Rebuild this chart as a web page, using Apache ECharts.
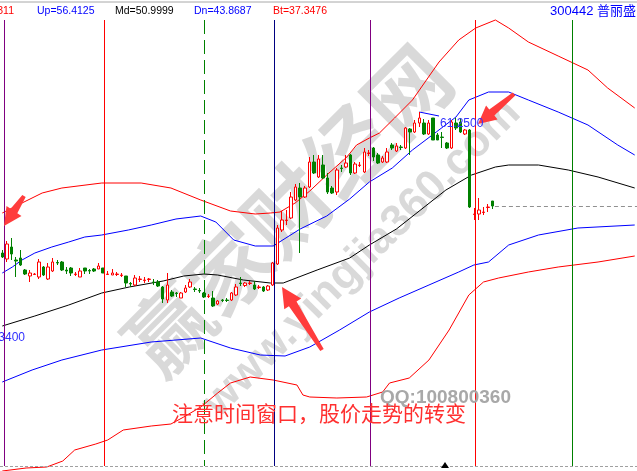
<!DOCTYPE html>
<html><head><meta charset="utf-8">
<script src="https://cdn.jsdelivr.net/npm/echarts@6/dist/echarts.min.js"></script>
<style>html,body{margin:0;padding:0;background:#fff;overflow:hidden}#c{width:637px;height:471px}</style>
</head><body><div id="c"></div><script>
// ---- data ----
const categoryCount = 139;
const categories = Array.from({length: categoryCount}, (_, i) => 'T' + (i + 1));
// candles: [open, close, low, high]
const candles = [
[47.15,46.75,46.65,47.45],[46.55,48.05,46.25,48.35],[47.75,47.05,46.45,48.65],[46.45,46.35,44.75,46.75],
[46.65,45.95,45.85,47.45],[45.45,45.05,44.95,45.55],[44.85,45.15,44.25,45.45],[45.0,45.05,44.95,45.15],
[44.75,46.25,44.55,46.55],[45.75,44.95,44.85,45.85],[44.55,45.75,44.45,46.15],[45.35,46.25,45.25,46.65],
[46.2,46.15,45.95,46.45],[46.25,45.45,45.35,46.35],[45.45,45.35,45.05,45.75],[45.65,45.15,44.85,45.75],
[45.0,45.05,44.85,45.25],[44.75,45.35,44.75,45.65],[45.65,45.35,45.05,45.65],[45.4,45.35,45.05,45.55],
[45.55,45.35,45.25,45.65],[45.55,45.85,45.55,46.15],[45.65,45.15,45.15,45.65],[45.0,45.05,44.95,45.35],
[44.95,45.15,44.95,45.55],[45.0,45.05,44.85,45.25],[44.9,44.95,44.75,45.15],[44.85,44.15,43.75,44.85],
[44.1,44.05,43.75,44.25],[43.95,44.65,43.85,44.95],[44.5,44.55,44.25,44.85],[44.4,44.45,44.15,44.75],
[44.5,44.55,44.25,44.65],[44.25,44.2,43.95,44.55],[44.25,43.85,43.75,44.45],[43.75,42.55,42.15,43.85],
[42.45,43.95,42.15,45.15],[43.25,42.85,42.75,43.45],[43.15,43.1,42.75,43.25],[42.65,43.15,42.65,43.25],
[43.25,43.65,43.15,43.95],[43.75,44.25,43.65,44.55],[43.55,43.5,43.25,43.75],[43.4,43.35,43.15,43.65],
[43.15,42.75,42.65,43.25],[42.8,42.85,42.65,43.05],[42.65,41.85,41.75,43.35],[42.05,42.35,41.95,42.45],
[42.45,42.4,42.25,42.55],[42.45,42.4,42.25,42.65],[42.45,43.15,42.35,43.25],[42.95,43.75,42.85,44.05],
[44.15,44.1,43.85,44.75],[43.9,44.15,43.75,44.25],[44.1,44.15,43.95,44.35],[43.95,43.55,43.45,44.35],
[43.7,43.75,43.55,43.95],[43.75,43.35,43.25,43.85],[43.45,43.85,43.35,43.95],[43.95,46.15,43.85,46.25],
[46.05,49.65,45.95,49.95],[49.45,50.45,49.25,51.35],[50.4,50.45,49.95,51.45],[50.65,52.75,50.55,53.25],
[52.45,53.75,52.35,54.05],[53.65,52.75,47.15,54.15],[52.75,53.65,52.65,53.85],[53.75,56.25,53.65,56.75],
[56.25,55.15,55.05,56.95],[54.75,56.55,54.65,56.95],[55.95,54.65,54.55,56.95],[54.65,53.25,53.05,55.15],
[53.65,53.15,53.05,53.85],[53.25,55.45,52.95,55.65],[55.65,55.6,55.25,55.95],[55.75,56.15,55.65,56.95],
[56.95,55.15,54.95,57.05],[55.15,56.05,55.05,56.25],[55.9,55.95,55.75,56.25],[55.25,57.25,55.15,57.65],
[57.1,57.15,56.85,57.45],[57.65,56.75,56.35,57.75],[56.95,56.15,56.05,57.15],[56.25,56.65,56.15,56.85],
[56.25,57.25,56.15,57.65],[57.95,57.65,57.45,58.15],[57.35,57.85,57.25,58.15],[57.75,57.7,57.45,57.95],
[57.65,59.65,57.55,59.75],[59.55,59.25,56.95,59.65],[59.25,60.15,59.15,60.45],[60.15,60.65,59.75,61.25],
[60.15,59.05,58.95,60.55],[59.05,60.15,58.95,60.45],[60.65,58.45,58.45,60.65],[58.95,58.45,58.45,59.15],
[58.75,58.7,57.65,59.25],[58.15,57.65,57.55,58.25],[57.65,60.25,57.55,60.45],[60.15,59.65,59.45,60.65],
[60.25,59.25,59.15,60.65],[59.05,59.45,58.95,59.55],[59.45,51.75,51.65,59.55],[51.0,51.05,50.45,51.65],
[51.05,51.45,50.45,52.65],[51.2,51.25,50.95,51.75],[51.7,51.75,51.25,52.05],[52.35,51.85,51.55,52.35]
];
// band lines: [bar index, price]
const redUpper = [[0,51.15],[4.3,52.15],[8.7,53.15],[13,53.65],[21.7,54.15],[30.3,54.15],[36.8,53.65],[43.3,52.45],[49.8,51.35],[55.2,51.05],[58.5,51.15],[60.6,51.25],[63.9,52.15],[67.1,53.35],[70.8,54.95],[75.2,56.75],[77.3,57.95],[80.1,58.65],[82.3,59.15],[85.6,60.65],[89.5,62.45],[95.3,66.25],[99.6,68.45],[103.3,69.65],[107.6,70.45],[110.5,69.65],[114.8,68.25],[121.3,66.85],[127.8,65.45],[132.1,63.65],[138,61.65]];
const blueUpper = [[0,45.15],[2.2,45.75],[4.3,46.45],[7.1,47.15],[10.8,47.75],[14.5,48.25],[18,48.75],[21.7,48.95],[27.5,49.45],[32.5,49.95],[37.9,50.55],[43.3,50.85],[46.6,50.25],[50.5,48.45],[55.2,47.85],[59.1,47.85],[65,49.55],[70.8,50.85],[75.8,52.55],[80.1,54.25],[85.1,55.65],[89.5,57.45],[94.7,59.25],[99,60.75],[101.8,62.45],[106.1,63.25],[110.5,63.25],[114.8,62.45],[121.3,61.25],[127.8,59.95],[134.3,57.95],[138,56.95]];
const middle = [[0,39.85],[7.1,40.85],[14.5,41.95],[21.7,43.15],[27.7,43.75],[35.1,44.35],[39.6,44.85],[44,45.05],[47,44.95],[52.6,44.45],[58.5,44.15],[61.3,44.15],[68.7,45.45],[75.8,46.65],[80.1,47.95],[86,49.55],[96.8,53.45],[102.4,54.95],[107.6,55.75],[110.5,55.95],[117,55.95],[123.5,55.45],[130,54.75],[138,53.65]];
const blueLower = [[0,34.25],[6.5,35.45],[13,36.45],[21.7,37.45],[32.5,38.25],[43.3,38.65],[49.8,37.65],[56.3,36.95],[61.7,36.85],[67.1,37.75],[73.6,39.45],[80.1,41.25],[86.6,42.65],[93.1,43.95],[99.6,45.25],[102.9,45.95],[106.1,46.25],[110.5,47.95],[117,48.95],[125.6,49.65],[138,49.95]];
const redLower = [[0,25.35],[5.2,25.65],[9.7,25.75],[13.2,26.35],[15.8,27.45],[20.4,28.05],[23,28.45],[26.4,29.45],[32.5,29.85],[36.8,30.05],[39.6,30.75],[43.3,31.75],[47,33.15],[49.8,34.15],[54.1,34.75],[59.1,34.45],[64.3,33.95],[65.6,32.95],[67.1,32.75],[73,32.65],[79.5,32.75],[83,33.25],[84.5,34.15],[88.8,34.65],[93.1,36.45],[97.5,39.45],[101.8,42.95],[105,44.25],[108.3,44.65],[114.8,45.25],[121.3,45.75],[130,46.25],[138,46.85]];
const trendSeg = [[91,61.25],[95.3,60.85]];
const timeWindows = [0.42, 22.29, 44.17, 59.33, 80.34, 103.3, 124.3];
const windowColors = ['#800080','#ff0000','#008000','#000080','#800080','#ff0000','#008000'];
const lastClose = 51.85;
const statLabels = ['Up=56.4125','Md=50.9999','Dn=43.8687','Bt=37.3476'];
const highLabel = '61.2500', lowLabel = '43.3400';
const stockTitle = '300442 普丽盛';
const note = '注意时间窗口，股价走势的转变';
const qq = 'QQ:100800360';

// ---- chart ----
const yMax = 72.45, yMin = 25.35;
const chart = echarts.init(document.getElementById('c'));
function arrowPts(tx, ty, sx, sy, hl, hw, s0, s1) {
  const dx = tx - sx, dy = ty - sy, L = Math.hypot(dx, dy), ux = dx / L, uy = dy / L, nx = -uy, ny = ux;
  const bx = tx - ux * hl, by = ty - uy * hl;
  return [[sx + nx*s0, sy + ny*s0],[bx + nx*s1, by + ny*s1],[bx + nx*hw, by + ny*hw],[tx, ty],[bx - nx*hw, by - ny*hw],[bx - nx*s1, by - ny*s1],[sx - nx*s0, sy - ny*s0]];
}
const lineSeries = (data, color) => ({type:'line', xAxisIndex:1, yAxisIndex:0, data, symbol:'none', silent:true, z:2,
  lineStyle:{color, width:1}, animation:false});
const vLines = timeWindows.map((x, i) => [
  {coord:[x, 70.45], lineStyle:{color:windowColors[i], width:1, type: i === 2 ? [14,6] : 'solid'}},
  {coord:[x, 25.85]}
]);
vLines.push([{coord:[107.5, lastClose], lineStyle:{color:'#909090', width:1, type:[4,3]}}, {coord:[138.5, lastClose]}]);
const txt = (text, x, y, fill, size, extra) => ({type:'text', x, y, z:10, silent:true,
  style:Object.assign({text, fill, fontSize:size, fontFamily:'Liberation Sans, Noto Sans CJK SC', verticalAlign:'middle'}, extra||{})});
const statColors = ['#0000ff','#000000','#0000ff','#ff0000'];
const statX = [37, 115, 194, 273];
chart.setOption({
  animation:false,
  backgroundColor:'#ffffff',
  grid:{left:-2.23, right:-2.57, top:0, bottom:0},
  xAxis:[
    {type:'category', data:categories, boundaryGap:true, show:false},
    {type:'value', min:-0.5, max:categoryCount - 0.5, show:false}
  ],
  yAxis:{type:'value', min:yMin, max:yMax, show:false, scale:true},
  series:[
    lineSeries(redUpper, '#ff0000'),
    lineSeries(blueUpper, '#0000ff'),
    Object.assign(lineSeries(middle, '#000000'), {markLine:{symbol:'none', silent:true, label:{show:false}, data:vLines, animation:false}}),
    lineSeries(blueLower, '#0000ff'),
    lineSeries(redLower, '#ff0000'),
    lineSeries(trendSeg, '#0000ff'),
    {type:'candlestick', xAxisIndex:0, yAxisIndex:0, data:candles, barWidth:3, z:3, silent:true,
     itemStyle:{color:'#ffffff', color0:'#008000', borderColor:'#ff0000', borderColor0:'#008000', borderWidth:1}}
  ],
  graphic:[
    // watermark
    {type:'text', x:288, y:210, rotation:Math.PI/4, z:1, silent:true,
     style:{text:'赢家财经网', fill:'rgba(185,185,185,0.55)', fontSize:84, fontWeight:'bold', fontFamily:'Noto Sans CJK SC', align:'center', verticalAlign:'middle'}},
    {type:'text', x:362, y:258, rotation:Math.PI/4, z:1, silent:true,
     style:{text:'www.yingjia360.com', fill:'rgba(185,185,185,0.55)', fontSize:44, fontWeight:'bold', fontFamily:'Liberation Sans', align:'center', verticalAlign:'middle'}},
    // frame lines
    {type:'line', z:10, silent:true, shape:{x1:0, y1:2, x2:637, y2:2}, style:{stroke:'#a8a8a8', lineWidth:1}},
    {type:'line', z:10, silent:true, shape:{x1:0, y1:466.5, x2:637, y2:466.5}, style:{stroke:'#a0a0a0', lineWidth:1, lineDash:[3,2]}},
    {type:'polygon', z:10, silent:true, shape:{points:[[445,462],[441,468],[449,468]]}, style:{fill:'#000'}},
    // header texts
    txt('311', 14, 11, '#ff0000', 10.5, {align:'right'}),
    ...statLabels.map((s, i) => txt(s, statX[i], 11, statColors[i], 10.5)),
    txt(stockTitle, 550, 11, '#0000ff', 13),
    // extreme labels
    txt(highLabel, 440, 124, '#3030ff', 12),
    txt(lowLabel, 25, 338, '#3030ff', 12, {align:'right'}),
    // arrows
    {type:'polygon', z:9, silent:true, shape:{points:arrowPts(4, 226, 24, 196, 18, 9, 2, 4)}, style:{fill:'#ff3c3c'}},
    {type:'polygon', z:9, silent:true, shape:{points:arrowPts(478, 124, 514, 94, 18, 9, 2, 4)}, style:{fill:'#ff3c3c'}},
    {type:'polygon', z:9, silent:true, shape:{points:arrowPts(282, 287, 322, 350, 20, 10, 2, 4.5)}, style:{fill:'#ff3c3c'}},
    // notes
    txt(qq, 380, 398, '#a8a8a8', 19, {fontWeight:'bold', fontFamily:'Liberation Sans'}),
    txt(note, 172, 413, '#ff3030', 21, {fontFamily:'Noto Sans CJK SC'})
  ]
});
</script></body></html>
